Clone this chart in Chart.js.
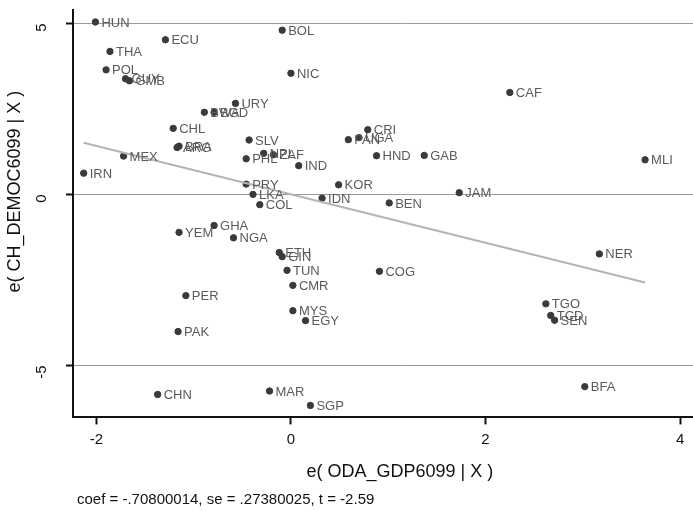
<!DOCTYPE html>
<html>
<head>
<meta charset="utf-8">
<script src="https://cdn.jsdelivr.net/npm/chart.js@4"></script>
<style>
    body { margin: 0; background: #fff; }
    #clip { width: 693px; height: 511px; overflow: hidden; }
    /* the plot region runs past the right edge of the picture, as in the original crop */
    #wrap { width: 731px; height: 511px; }
</style>
</head>
<body>
<div id="clip"><div id="wrap"><canvas id="avplot"></canvas></div></div>
<script>
// Country codes and residuals
const countries = ["HUN", "ECU", "THA", "POL", "GUY", "GMB", "BWA", "BGD", "URY", "CHL",
                   "BRA", "ARG", "MEX", "IRN", "SLV", "PHL", "NPL", "ZAF", "IND", "PRY",
                   "LKA", "COL", "GHA", "YEM", "NGA", "ETH", "GIN", "TUN", "CMR", "MYS",
                   "EGY", "PER", "PAK", "CHN", "MAR", "SGP", "BOL", "NIC", "CRI", "PAN",
                   "UGA", "HND", "GAB", "KOR", "IDN", "BEN", "COG", "JAM", "CAF", "MLI",
                   "NER", "TGO", "TCD", "SEN", "BFA"];
const odaResid = [-2.01, -1.29, -1.86, -1.90, -1.70, -1.66, -0.89, -0.79, -0.57, -1.21,
                  -1.15, -1.17, -1.72, -2.13, -0.43, -0.46, -0.28, -0.18, 0.08, -0.46,
                  -0.39, -0.32, -0.79, -1.15, -0.59, -0.12, -0.09, -0.04, 0.02, 0.02,
                  0.15, -1.08, -1.16, -1.37, -0.22, 0.20, -0.09, 0.00, 0.79, 0.59,
                  0.70, 0.88, 1.37, 0.49, 0.32, 1.01, 0.91, 1.73, 2.25, 3.64,
                  3.17, 2.62, 2.67, 2.71, 3.02];
const democResid = [5.04, 4.52, 4.18, 3.64, 3.38, 3.32, 2.40, 2.40, 2.66, 1.93,
                    1.41, 1.37, 1.12, 0.62, 1.59, 1.04, 1.20, 1.16, 0.84, 0.30,
                    0.00, -0.30, -0.91, -1.11, -1.27, -1.70, -1.82, -2.22, -2.66, -3.40,
                    -3.69, -2.96, -4.01, -5.85, -5.75, -6.17, 4.80, 3.54, 1.89, 1.60,
                    1.66, 1.13, 1.14, 0.28, -0.11, -0.25, -2.25, 0.05, 2.98, 1.01,
                    -1.74, -3.20, -3.54, -3.68, -5.62];
const xTicks = [-2, 0, 2, 4];
const yTicks = [-5, 0, 5];
const coef = -0.70800014;
const yTitle = "e( CH_DEMOC6099 | X )";
const footer = "coef = -.70800014, se = .27380025, t = -2.59";

document.addEventListener("DOMContentLoaded", function () {
    const font = "'Liberation Sans', Arial, sans-serif";

    const points = odaResid.map((x, i) => ({ x: x, y: democResid[i] }));
    // fitted line through the origin over the data range
    const xMin = Math.min(...odaResid);
    const xMax = Math.max(...odaResid);
    const fit = [{ x: xMin, y: coef * xMin }, { x: xMax, y: coef * xMax }];

    // country codes next to the markers, the y title and the coef note
    const codeLabels = {
        id: "codeLabels",
        afterDatasetsDraw(chart) {
            const ctx = chart.ctx;
            const area = chart.chartArea;
            const meta = chart.getDatasetMeta(1);
            ctx.save();
            ctx.font = "13px " + font;
            ctx.fillStyle = "#5a5a5a";
            ctx.textAlign = "left";
            ctx.textBaseline = "middle";
            meta.data.forEach((el, i) => {
                ctx.fillText(countries[i], el.x + 6, el.y + 1);
            });

            ctx.font = "15px " + font;
            ctx.fillStyle = "#111";
            ctx.fillText(footer, area.left + 4, chart.height - 11);

            // the original sets the y title a little above the middle of the axis
            ctx.translate(15, (area.top + area.bottom) / 2 - 22);
            ctx.rotate(-Math.PI / 2);
            ctx.font = "18px " + font;
            ctx.textAlign = "center";
            ctx.fillText(yTitle, 0, 0);
            ctx.restore();
        }
    };

    new Chart(document.getElementById("avplot"), {
        type: "scatter",
        data: {
            datasets: [
                {
                    type: "line",
                    data: fit,
                    borderColor: "#b4b4b4",
                    borderWidth: 2,
                    pointRadius: 0,
                    fill: false
                },
                {
                    data: points,
                    backgroundColor: "#3a3a3a",
                    borderColor: "#3a3a3a",
                    pointRadius: 3.2,
                    pointHoverRadius: 3.2
                }
            ]
        },
        options: {
            responsive: true,
            maintainAspectRatio: false,
            animation: false,
            layout: { padding: { top: 10, right: 0, left: 0, bottom: 28 } },
            plugins: {
                legend: { display: false },
                tooltip: { enabled: false }
            },
            scales: {
                x: {
                    type: "linear",
                    min: -2.24,
                    max: 4.48,
                    afterBuildTicks: axis => { axis.ticks = xTicks.map(v => ({ value: v })); },
                    afterFit: axis => { axis.paddingLeft = 0; axis.paddingRight = 0; },
                    ticks: { color: "#111", font: { family: font, size: 15 }, padding: 6 },
                    grid: { drawOnChartArea: false, tickLength: 7, tickColor: "#111", tickWidth: 2 },
                    border: { color: "#111", width: 2 },
                    title: {
                        display: true,
                        text: "e( ODA_GDP6099 | X )",
                        color: "#111",
                        font: { family: font, size: 18 },
                        padding: { top: 7, bottom: 0 }
                    }
                },
                y: {
                    type: "linear",
                    min: -6.52,
                    max: 5.39,
                    afterBuildTicks: axis => { axis.ticks = yTicks.map(v => ({ value: v })); },
                    afterFit: axis => {
                        axis.width = 73;
                        axis.paddingTop = 0;
                        axis.paddingBottom = 0;
                    },
                    ticks: {
                        color: "#111",
                        font: { family: font, size: 15 },
                        minRotation: 90,
                        maxRotation: 90,
                        padding: 24
                    },
                    grid: { color: "#9a9a9a", lineWidth: 1, tickLength: 7, tickColor: "#111", tickWidth: 2 },
                    border: { color: "#111", width: 2 }
                }
            }
        },
        plugins: [codeLabels]
    });
});
</script>
</body>
</html>
